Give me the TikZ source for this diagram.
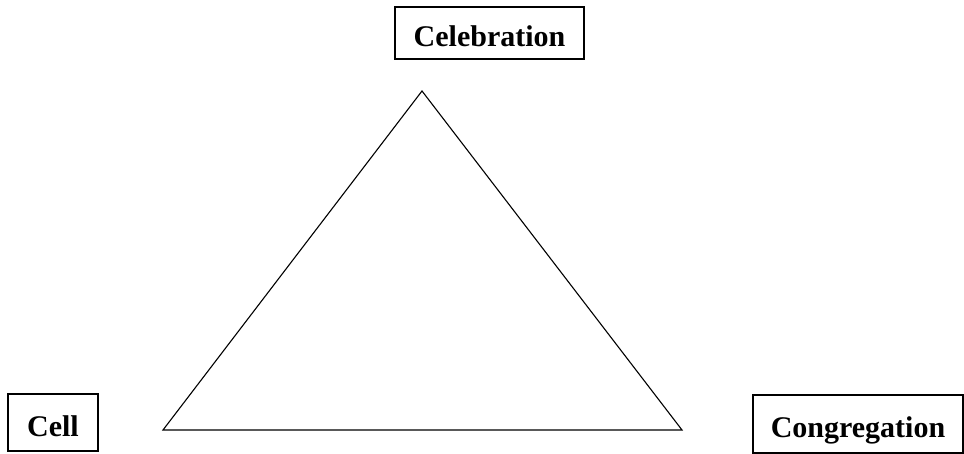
\documentclass[tikz,border=0pt]{standalone}
\usepackage{fontspec}
\setmainfont{Liberation Serif}
\begin{document}
\begin{tikzpicture}[x=1pt,y=1pt,
  labelbox/.style={draw, line width=1.6pt, rectangle, inner sep=0pt,
    font=\fontsize{30}{36}\selectfont\bfseries, text height=28pt, text depth=0pt},
  edge/.style={line width=1.1pt, line join=miter}]
\useasboundingbox (0,0) rectangle (964,454);
\node[labelbox, minimum width=189pt, minimum height=52pt] (cel) at (489.5,421) {Celebration};
\node[labelbox, minimum width=90pt, minimum height=57pt] (cell) at (53,31.5) {Cell};
\node[labelbox, minimum width=210pt, minimum height=58pt] (cong) at (858,30) {Congregation};
\coordinate (top) at (422,363);
\coordinate (bl) at (163,24);
\coordinate (br) at (682,24);
\draw[edge] (top) -- (bl) -- (br) -- cycle;
\end{tikzpicture}
\end{document}
